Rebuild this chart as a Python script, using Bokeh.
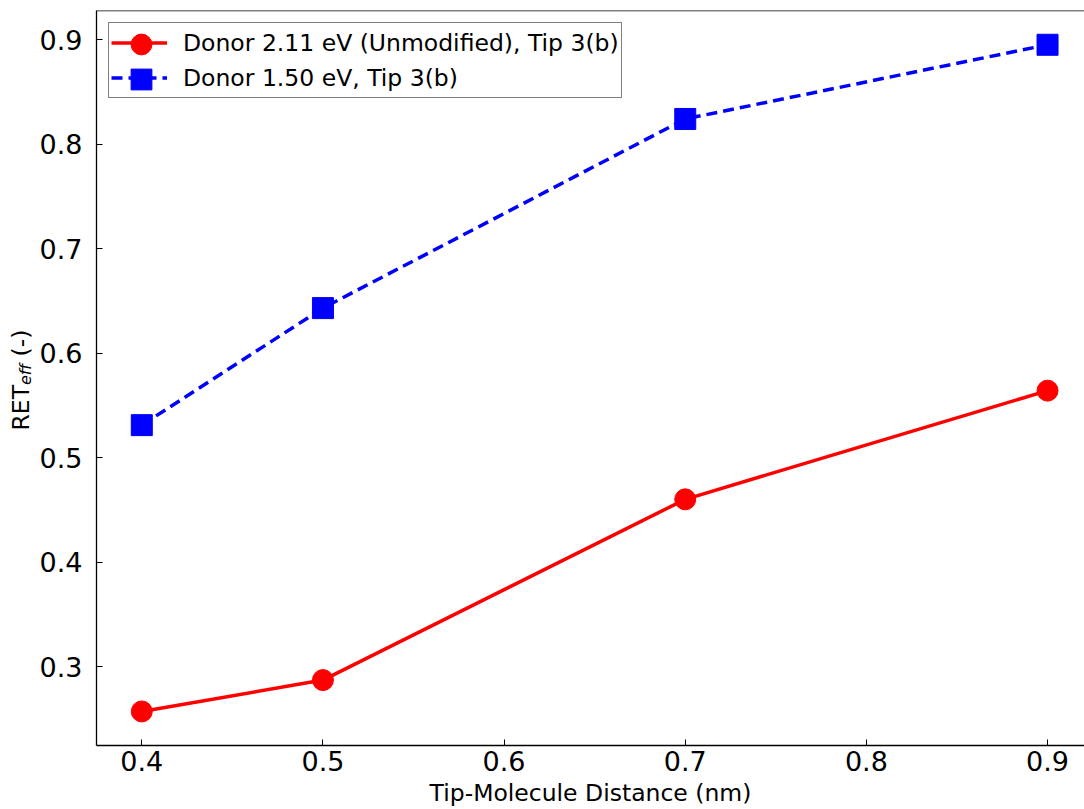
import math
from bokeh.plotting import figure
from bokeh.layouts import row
from bokeh.models import FixedTicker, Span, Label, Range1d, Legend, LegendItem
from bokeh.embed import file_html
from bokeh.resources import INLINE

# ---- data ----
distance = [0.4, 0.5, 0.7, 0.9]
ret_211 = [0.257, 0.287, 0.460, 0.564]
ret_150 = [0.531, 0.643, 0.824, 0.895]
x_ticks = [0.4, 0.5, 0.6, 0.7, 0.8, 0.9]
y_ticks = [0.3, 0.4, 0.5, 0.6, 0.7, 0.8, 0.9]
label_211 = "Donor 2.11 eV (Unmodified), Tip 3(b)"
label_150 = "Donor 1.50 eV, Tip 3(b)"
x_label = "Tip-Molecule Distance (nm)"
y_label_main, y_label_sub, y_label_unit = "RET", "eff", "(-)"

FONT = "DejaVu Sans"
y_lo, y_hi = 0.2244, 0.9278
W_LAB = 36
H = 809

# ---- main plot ----
p = figure(width=1084 - W_LAB, height=H, output_backend="svg", toolbar_location=None,
           x_range=Range1d(0.375, 0.9204), y_range=Range1d(y_lo, y_hi),
           min_border_left=95 - W_LAB, min_border_top=10, min_border_right=0,
           min_border_bottom=10)
p.outline_line_color = None
p.grid.visible = False
p.background_fill_color = "white"

for ax in (p.xaxis[0], p.yaxis[0]):
    ax.axis_line_color = "black"
    ax.axis_line_width = 1.3
    ax.major_tick_in = 6
    ax.major_tick_out = 0
    ax.major_tick_line_color = "black"
    ax.major_tick_line_width = 1
    ax.minor_tick_line_color = None
    ax.major_label_text_font = FONT
    ax.major_label_text_font_size = "27px"
    ax.major_label_text_color = "black"

p.xaxis.ticker = FixedTicker(ticks=x_ticks)
p.yaxis.ticker = FixedTicker(ticks=y_ticks)
p.xaxis.major_label_standoff = 5
p.yaxis.major_label_standoff = 14
p.xaxis.axis_label = x_label
p.xaxis.axis_label_text_font = FONT
p.xaxis.axis_label_text_font_size = "23.5px"
p.xaxis.axis_label_text_font_style = "normal"
p.xaxis.axis_label_text_color = "black"
p.xaxis.axis_label_standoff = 5

# top spine
p.add_layout(Span(location=y_hi, dimension="width", line_color="black", line_width=1.5))

# series
l_red = p.line(distance, ret_211, line_color="red", line_width=3.5)
s_red = p.scatter(distance, ret_211, marker="circle", size=21, fill_color="red", line_color="red")
l_blue = p.line(distance, ret_150, line_color="blue", line_width=3.5, line_dash="11 6")
s_blue = p.scatter(distance, ret_150, marker="square", size=21, fill_color="blue", line_color="blue")

# main legend (lines + labels + frame)
lg = Legend(items=[LegendItem(label=label_211, renderers=[l_red]),
                   LegendItem(label=label_150, renderers=[l_blue])],
            location="top_left", margin=12, padding=2, spacing=0,
            glyph_height=35, glyph_width=56, label_height=35, label_standoff=16,
            label_text_font=FONT, label_text_font_size="23.5px", label_text_color="black",
            border_line_color="black", border_line_width=1.5, background_fill_alpha=1.0)
p.add_layout(lg)

# larger legend markers overlaid on the legend lines
FB = 744  # approx. page y of frame bottom
for rend, cy in ((s_red, 42.5), (s_blue, 77.5)):
    mk = Legend(items=[LegendItem(label=" ", renderers=[rend])],
                location=(140 - 26 - 95, FB - (cy - 26) - 52), padding=0, margin=0, spacing=0,
                glyph_height=52, glyph_width=52, label_height=10, label_standoff=0,
                label_text_font_size="1px", border_line_color=None,
                background_fill_alpha=0.0)
    p.add_layout(mk)

# ---- y-axis title strip: RET_eff (-) ----
q = figure(width=W_LAB, height=H, output_backend="svg", toolbar_location=None,
           x_axis_location=None, y_axis_location=None, min_border=0,
           x_range=Range1d(0, 1), y_range=Range1d(0, 1))
q.outline_line_color = None
q.grid.visible = False
common = dict(x_units="screen", y_units="screen", angle=math.pi / 2,
              text_align="left", text_baseline="middle", text_font=FONT, text_color="black")
q.add_layout(Label(x=20, y=315, text=y_label_main, text_font_size="23.5px", **common))
q.add_layout(Label(x=25, y=360.5, text=y_label_sub, text_font_size="16px",
                   text_font_style="italic", **common))
q.add_layout(Label(x=20, y=389, text=y_label_unit, text_font_size="23.5px", **common))

layout = row(q, p)
open("out.html", "w").write(file_html(layout, INLINE))
